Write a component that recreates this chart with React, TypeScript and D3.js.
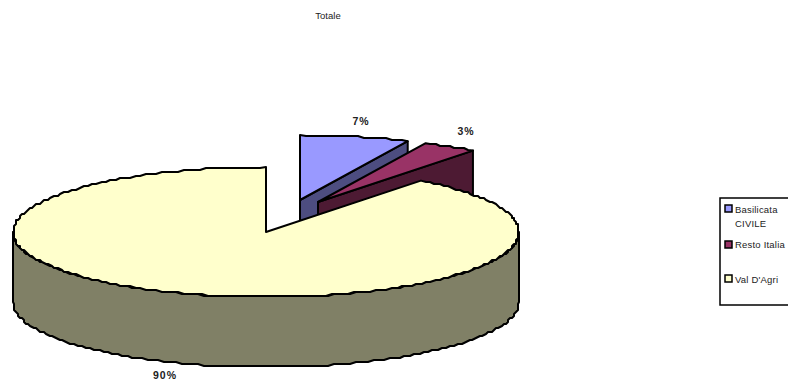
import React from "react";
import * as d3 from "d3";

const categories = ["Basilicata CIVILE", "Resto Italia", "Val D'Agri"];
const shares = [7.0, 3.49, 89.51];
const topColors = ["#9999FF", "#993366", "#FFFFCC"];
const sideColors = ["#4D4D80", "#4D1A33", "#808066"];
const legendLines = [["Basilicata", "CIVILE"], ["Resto Italia"], ["Val  D'Agri"]];

const W = 788;
const H = 381;
const cx = 266;
const cy = 232;
const rx = 253;
const ry = 65;
const depth = 70;
// Exploded slices sit away from the pie centre.
const explode: [number, number][] = [[34, -32], [52, -30], [0, 0]];
const labelPos: [number, number][] = [[361, 125], [466, 135], [165, 379]];
const legendRows = [
  { swatch: 205, lines: [213, 227] },
  { swatch: 241, lines: [248] },
  { swatch: 275, lines: [283] },
];

const grid = 2;
const snap = (v: number) => Math.round(v / grid) * grid;

function rim(a0: number, a1: number, ox: number, oy: number, drop = 0): [number, number][] {
  const n = Math.max(2, Math.ceil((Math.abs(a1 - a0) * rx) / 6));
  return d3.range(n + 1).map((i) => {
    const a = a0 + ((a1 - a0) * i) / n;
    const onEnd = i === 0 || i === n;
    const x = ox + cx + rx * Math.sin(a);
    const y = oy + cy - ry * Math.cos(a) + drop;
    return (onEnd ? [x, y] : [snap(x), snap(y)]) as [number, number];
  });
}

const line = d3.line<[number, number]>().curve(d3.curveLinear);

export default function App() {
  const pie = d3.pie<number>().sort(null).startAngle(0).endAngle(2 * Math.PI);
  const arcs = pie(shares);
  const fmt = d3.format(".0f");
  const outline = { stroke: "#000", strokeWidth: 2, strokeLinejoin: "round" as const };

  return (
    <svg
      width={W}
      height={H}
      viewBox={`0 0 ${W} ${H}`}
      style={{ position: "fixed", left: 0, top: 0, fontFamily: "'Liberation Sans', Arial, sans-serif" }}
    >
      <rect width={W} height={H} fill="#fff" />
      <text x={328} y={19} fontSize={9.5} textAnchor="middle" fill="#222">Totale</text>

      {arcs.map((arc, i) => {
        const [ox, oy] = explode[i];
        const apex: [number, number] = [cx + ox, cy + oy];
        const top = [apex, ...rim(arc.startAngle, arc.endAngle, ox, oy)] as [number, number][];
        const end = rim(arc.endAngle, arc.endAngle, ox, oy)[0];
        // Cut face on the clockwise side of an exploded slice.
        const face: [number, number][] = [
          apex, end, [end[0], end[1] + depth], [apex[0], apex[1] + depth],
        ];
        // Front wall of the large slice, from the right extreme round to the left one.
        const wallStart = Math.max(arc.startAngle, Math.PI / 2);
        const wallEnd = Math.min(arc.endAngle, 1.5 * Math.PI);
        const wall = wallEnd > wallStart
          ? [...rim(wallStart, wallEnd, ox, oy), ...rim(wallEnd, wallStart, ox, oy, depth)]
          : null;
        return (
          <g key={categories[i]}>
            {arc.endAngle < Math.PI && (
              <path d={line(face) + "Z"} fill={sideColors[i]} {...outline} />
            )}
            {wall && <path d={line(wall) + "Z"} fill={sideColors[i]} {...outline} />}
            <path d={line(top) + "Z"} fill={topColors[i]} {...outline} />
          </g>
        );
      })}

      {arcs.map((arc, i) => (
        <text
          key={categories[i]}
          x={labelPos[i][0]}
          y={labelPos[i][1]}
          fontSize={10.5}
          fontWeight="bold"
          letterSpacing={1}
          textAnchor="middle"
          fill="#222"
        >
          {fmt(arc.data) + "%"}
        </text>
      ))}

      <rect x={720} y={198} width={90} height={107} fill="#fff" stroke="#000" strokeWidth={1.5} />
      {legendRows.map((row, i) => (
        <g key={categories[i]}>
          <rect x={725} y={row.swatch} width={7} height={7} fill={topColors[i]} stroke="#000" strokeWidth={1.5} />
          {row.lines.map((y, j) => (
            <text key={y} x={735} y={y} fontSize={9.5} letterSpacing={0.2} fill="#222">{legendLines[i][j]}</text>
          ))}
        </g>
      ))}
    </svg>
  );
}
